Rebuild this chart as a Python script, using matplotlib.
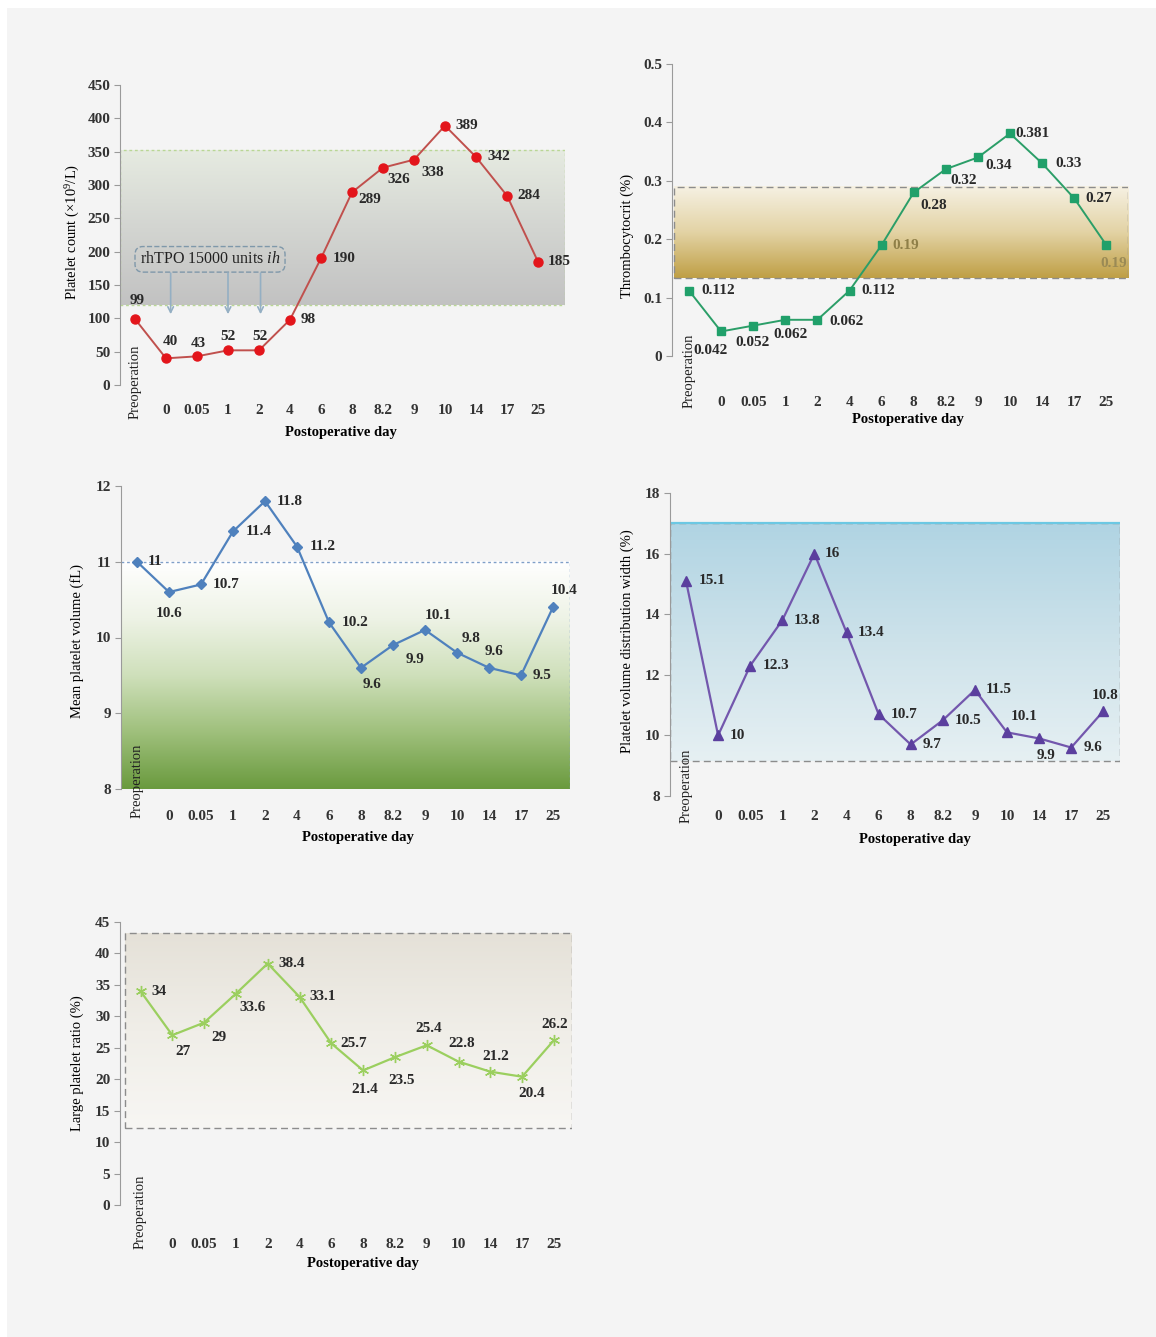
import numpy as np
import matplotlib
matplotlib.use('Agg')
import matplotlib.pyplot as plt
from matplotlib.colors import LinearSegmentedColormap
from matplotlib.patches import Rectangle

plt.rcParams['font.family'] = ['Liberation Serif', 'DejaVu Serif']
plt.rcParams['mathtext.fontset'] = 'custom'
plt.rcParams['mathtext.rm'] = 'Liberation Serif'
plt.rcParams['mathtext.it'] = 'Liberation Serif:italic'

# data
days = ['Preoperation', '0', '0.05', '1', '2', '4', '6', '8', '8.2', '9', '10', '14', '17', '25']
platelet_count = [99, 40, 43, 52, 52, 98, 190, 289, 326, 338, 389, 342, 284, 185]
thrombocytocrit = [0.112, 0.042, 0.052, 0.062, 0.062, 0.112, 0.19, 0.28, 0.32, 0.34, 0.381, 0.33, 0.27, 0.19]
mpv = [11, 10.6, 10.7, 11.4, 11.8, 11.2, 10.2, 9.6, 9.9, 10.1, 9.8, 9.6, 9.5, 10.4]
pdw = [15.1, 10, 12.3, 13.8, 16, 13.4, 10.7, 9.7, 10.5, 11.5, 10.1, 9.9, 9.6, 10.8]
large_ratio = [34, 27, 29, 33.6, 38.4, 33.1, 25.7, 21.4, 23.5, 25.4, 22.8, 21.2, 20.4, 26.2]

# normal ranges (shaded boxes)
plt_range = (120, 352)
pct_range = (0.134, 0.29)
mpv_range = (8, 11)
pdw_range = (9.16, 17.0)
plcr_range = (12.3, 43.3)

rhtpo_days = [1.15, 3.0, 4.05]   # arrow positions (category index)

W, H = 1156, 1337
fig = plt.figure(figsize=(W / 100, H / 100), dpi=100, facecolor='#f4f4f4')
fig.patches.append(Rectangle((0, 1 - 8 / H), 1, 8 / H, transform=fig.transFigure,
                             facecolor='white', edgecolor='none', zorder=-5))
fig.patches.append(Rectangle((0, 0), 7 / W, 1, transform=fig.transFigure,
                             facecolor='white', edgecolor='none', zorder=-5))

NUM = 11


def make_axes(l, t, r, b, x0, sp):
    ax = fig.add_axes([l / W, 1 - b / H, (r - l) / W, (b - t) / H])
    ax.set_facecolor('none')
    for s in ['top', 'right', 'bottom']:
        ax.spines[s].set_visible(False)
    ax.spines['left'].set_color('#9a9a9a')
    ax.tick_params(axis='y', direction='out', length=4, color='#9a9a9a', labelsize=NUM, pad=3)
    ax.tick_params(axis='x', bottom=False, labelbottom=False)
    ax.set_xlim((l - x0) / sp, (r - x0) / sp)
    return ax


def band(ax, x0, x1, y0, y1, colors, edge, ls):
    cmap = LinearSegmentedColormap.from_list('g', colors)
    grad = np.linspace(0, 1, 256).reshape(-1, 1)
    ax.imshow(grad, extent=(x0, x1, y0, y1), cmap=cmap, aspect='auto',
              origin='upper', zorder=0)
    if edge is not None:
        ax.add_patch(Rectangle((x0, y0), x1 - x0, y1 - y0, fill=False,
                               edgecolor=edge, linestyle=ls, linewidth=1.0, zorder=1))


def finish(ax, vals, offs, yticks, lab_off, pre_off, ylim, lab_colors=None):
    ax.set_ylim(*ylim)
    ax.set_yticks(yticks)
    ax.set_yticklabels([f'{t:g}' for t in yticks], fontweight='bold', color='#333333')
    for i, (v, (dx, dy)) in enumerate(zip(vals, offs)):
        c = '#2a2a2a' if lab_colors is None else lab_colors[i]
        ax.annotate(f'{v:g}', (i, v), xytext=(dx, -dy), textcoords='offset pixels',
                    ha='center', va='center', fontsize=NUM, fontweight='bold', color=c, zorder=5)
    for i, d in enumerate(days):
        if i == 0:
            ax.annotate(d, (i, 0), xycoords=('data', 'axes fraction'), xytext=(0, -pre_off),
                        textcoords='offset pixels', rotation=90, ha='center', va='bottom',
                        fontsize=10.5, color='#222222')
        else:
            ax.annotate(d, (i, 0), xycoords=('data', 'axes fraction'), xytext=(0, -lab_off),
                        textcoords='offset pixels', ha='center', va='center',
                        fontsize=NUM, fontweight='bold', color='#333333')


def fig_text(x, y, s, **kw):
    fig.text(x / W, 1 - y / H, s, **kw)


x = np.arange(len(days))

# panel 1: platelet count
ax1 = make_axes(120, 85, 565, 385, 135, 31.0)
xl = ax1.get_xlim()
band(ax1, xl[0], xl[1], plt_range[0], plt_range[1], ['#e6ebe1', '#d3d5d1', '#c2c2c2'], '#b9d695', (0, (2, 2)))
ax1.set_xlim(xl)
ax1.plot(x, platelet_count, color='#c0504d', lw=1.4, marker='o', ms=6.5,
         mfc='#e3151b', mec='#e3151b', zorder=3)
p1_off = [(2, -18), (4, -17), (1, -13), (0, -14), (1, -14), (18, 0), (23, 0), (18, 7),
          (16, 12), (19, 13), (22, 0), (23, 0), (22, 0), (21, 0)]
finish(ax1, platelet_count, p1_off, np.arange(0, 451, 50), 25, 34, (0, 450))
ax1.text(2.42, 188.5, r'rhTPO 15000 units $\mathit{ih}$', ha='center', va='center', fontsize=11.5,
         color='#222222', zorder=4,
         bbox=dict(boxstyle='round,pad=0.3,rounding_size=0.5', facecolor='none',
                   edgecolor='#7f98aa', linestyle='--', linewidth=1.0))
for d in rhtpo_days:
    ax1.annotate('', xy=(d, 102), xytext=(d, 172),
                 arrowprops=dict(arrowstyle='->', color='#94afc3', lw=1.2), zorder=4)
fig_text(341, 433, 'Postoperative day', ha='center', va='center', fontsize=10.5, fontweight='bold')
fig_text(73, 232, 'Platelet count (×10$^9$/L)', rotation=90, ha='center', va='center', fontsize=10.5)

# panel 2: thrombocytocrit
ax2 = make_axes(672, 64, 1128, 356, 689, 32.1)
xl = ax2.get_xlim()
band(ax2, xl[0] + 0.05, xl[1], pct_range[0], pct_range[1], ['#f6f1e3', '#e3d3a5', '#bf9f45'],
     '#8c8c8c', (0, (5, 3)))
ax2.set_xlim(xl)
ax2.plot(x, thrombocytocrit, color='#2b9e68', lw=1.4, marker='s', ms=6,
         mfc='#20a06a', mec='#20a06a', zorder=3)
p2_off = [(29, 0), (-11, 19), (-1, 17), (5, 15), (29, 2), (29, 0), (24, 0), (20, 13),
          (18, 11), (21, 8), (23, 0), (26, 0), (24, 0), (7, 18)]
p2_col = ['#2a2a2a'] * 14
p2_col[6] = '#8f7f48'
p2_col[13] = '#9a8a55'
finish(ax2, thrombocytocrit, p2_off, np.round(np.arange(0, 0.51, 0.1), 1), 46, 52, (0, 0.5), p2_col)
fig_text(908, 420, 'Postoperative day', ha='center', va='center', fontsize=10.5, fontweight='bold')
fig_text(627, 236, 'Thrombocytocrit (%)', rotation=90, ha='center', va='center', fontsize=10.5)

# panel 3: mean platelet volume
ax3 = make_axes(121, 486, 570, 789, 137, 32.0)
xl = ax3.get_xlim()
band(ax3, xl[0], xl[1], mpv_range[0], mpv_range[1],
     ['#ffffff', '#eef3e6', '#cfe0bb', '#9fc07c', '#6a9a3e'], None, None)
ax3.plot([xl[0], xl[1], xl[1]], [mpv_range[1], mpv_range[1], mpv_range[0]], color='#7f9fc8',
         lw=1.0, ls=(0, (2, 2)), zorder=1)
ax3.set_xlim(xl)
ax3.plot(x, mpv, color='#4f81bd', lw=1.6, marker='D', ms=5,
         mfc='#4f81bd', mec='#4f81bd', zorder=3)
p3_off = [(18, 0), (0, 21), (25, 0), (26, 0), (25, 0), (26, 0), (26, 0), (11, 17),
          (22, 14), (13, -14), (14, -14), (5, -16), (21, 0), (11, -17)]
finish(ax3, mpv, p3_off, np.arange(8, 13, 1), 28, 29, (8, 12))
fig_text(358, 838, 'Postoperative day', ha='center', va='center', fontsize=10.5, fontweight='bold')
fig_text(77, 641, 'Mean platelet volume (fL)', rotation=90, ha='center', va='center', fontsize=10.5)

# panel 4: platelet volume distribution width
ax4 = make_axes(670, 493, 1120, 796, 686, 32.1)
xl = ax4.get_xlim()
band(ax4, xl[0], xl[1], pdw_range[0], pdw_range[1], ['#b0d4e3', '#cde2ea', '#e6f0f3'],
     '#8c8c8c', (0, (5, 3)))
ax4.plot([xl[0], xl[1]], [pdw_range[1], pdw_range[1]], color='#6cc8e3', lw=1.6, zorder=2)
ax4.set_xlim(xl)
ax4.plot(x, pdw, color='#7357ad', lw=1.6, marker='^', ms=6.5,
         mfc='#5b3f9e', mec='#5b3f9e', zorder=3)
p4_off = [(26, 0), (19, 0), (26, 0), (25, 0), (18, 0), (25, 0), (26, 0), (21, 0),
          (25, 0), (24, 0), (17, -16), (7, 17), (22, 0), (2, -16)]
finish(ax4, pdw, p4_off, np.arange(8, 19, 2), 21, 27, (8, 18))
fig_text(915, 840, 'Postoperative day', ha='center', va='center', fontsize=10.5, fontweight='bold')
fig_text(627, 641, 'Platelet volume distribution width (%)', rotation=90, ha='center',
         va='center', fontsize=10.5)

# panel 5: large platelet ratio
ax5 = make_axes(120, 922, 572, 1205, 140.5, 31.8)
xl = ax5.get_xlim()
band(ax5, -0.487, xl[1], plcr_range[0], plcr_range[1], ['#e5e1d8', '#f0eee8', '#f7f6f3'],
     '#8c8c8c', (0, (5, 3)))
ax5.set_xlim(xl)
ax5.plot(x, large_ratio, color='#9bcf5f', lw=1.6, marker=(6, 2, 0), ms=8,
         mec='#9bcf5f', mew=1.0, zorder=3)
p5_off = [(19, 0), (11, 16), (15, 15), (17, 14), (24, 0), (23, 0), (22, 0), (2, 19),
          (7, 23), (2, -17), (3, -18), (5, -15), (10, 17), (1, -16)]
finish(ax5, large_ratio, p5_off, np.arange(0, 46, 5), 40, 44, (0, 45))
fig_text(363, 1263, 'Postoperative day', ha='center', va='center', fontsize=10.5, fontweight='bold')
fig_text(77, 1063, 'Large platelet ratio (%)', rotation=90, ha='center', va='center', fontsize=10.5)

fig.savefig('out.png', dpi=100, facecolor=fig.get_facecolor())
